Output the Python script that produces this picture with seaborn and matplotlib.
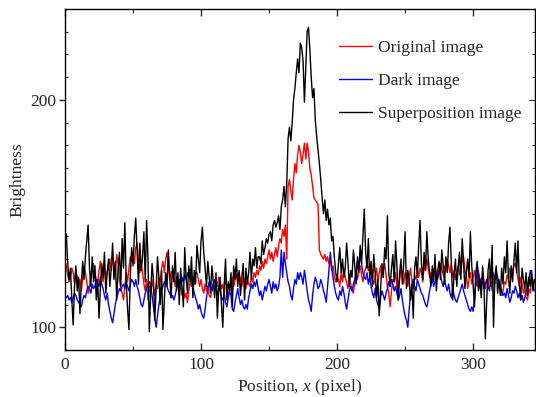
import numpy as np
import pandas as pd
import seaborn as sns
import matplotlib.pyplot as plt
from matplotlib.ticker import MultipleLocator

# brightness profiles, one value per pixel position
original = [
    129, 127, 123, 120, 122, 126, 124, 119, 125, 122,
    118, 121, 116, 122, 127, 124, 120, 115, 118, 123,
    126, 128, 124, 121, 119, 125, 129, 123, 120, 126,
    122, 124, 127, 130, 125, 131, 127, 124, 132, 128,
    121, 117, 115, 112, 118, 124, 120, 126, 131, 129,
    133, 128, 135, 137, 130, 124, 128, 124, 119, 116,
    121, 112, 118, 115, 121, 117, 114, 119, 117, 122,
    120, 126, 129, 124, 130, 133, 127, 121, 124, 125,
    122, 118, 122, 120, 116, 119, 114, 117, 113, 115,
    111, 116, 120, 118, 122, 119, 124, 124, 121, 118,
    121, 117, 115, 119, 116, 118, 114, 113, 117, 119,
    116, 121, 118, 122, 120, 117, 119, 115, 121, 118,
    114, 116, 119, 122, 118, 121, 123, 120, 124, 121,
    118, 122, 120, 117, 121, 119, 118, 122, 120, 124,
    122, 125, 123, 127, 125, 129, 126, 130, 128, 131,
    134, 130, 133, 129, 132, 135, 131, 136, 139, 137,
    143, 140, 145, 130, 162, 165, 160, 156, 165, 172,
    168, 176, 180, 177, 172, 176, 181, 174, 181, 177,
    170, 167, 162, 157, 156, 155, 154, 134, 132, 131,
    130, 132, 129, 131, 128, 130, 125, 127, 122, 120,
    123, 121, 118, 124, 120, 126, 122, 120, 117, 121,
    119, 116, 115, 120, 124, 121, 125, 127, 123, 120,
    124, 126, 128, 125, 128, 123, 121, 119, 122, 126,
    120, 124, 127, 122, 125, 128, 123, 118, 115, 109,
    116, 121, 120, 124, 118, 115, 121, 126, 122, 119,
    124, 121, 118, 122, 126, 120, 117, 123, 121, 125,
    122, 126, 124, 120, 127, 125, 130, 126, 122, 124,
    120, 123, 127, 124, 121, 125, 128, 126, 123, 127,
    125, 130, 127, 124, 128, 122, 125, 121, 124, 127,
    123, 126, 129, 131, 125, 123, 117, 121, 124, 119,
    122, 125, 120, 118, 123, 121, 119, 124, 120, 117,
    121, 118, 124, 120, 116, 122, 119, 123, 121, 118,
    118, 114, 116, 120, 119, 123, 121, 126, 122, 125,
    127, 128, 125, 121, 118, 122, 119, 115, 117, 113,
    112, 117, 115, 120, 118, 121,
]

dark = [
    114, 113, 114, 112, 113, 111, 113, 115, 114, 112,
    111, 110, 109, 112, 114, 113, 116, 118, 117, 115,
    119, 117, 118, 121, 119, 118, 122, 119, 117, 114,
    112, 115, 110, 107, 104, 102, 106, 110, 113, 115,
    117, 116, 118, 119, 117, 120, 118, 116, 119, 121,
    120, 118, 121, 118, 116, 113, 110, 109, 112, 115,
    117, 119, 120, 118, 114, 109, 104, 100, 105, 110,
    113, 116, 118, 120, 119, 118, 116, 115, 113, 114,
    112, 114, 117, 119, 121, 118, 122, 120, 123, 121,
    124, 122, 125, 121, 118, 115, 113, 111, 108, 110,
    107, 105, 104, 108, 113, 117, 120, 118, 116, 119,
    121, 117, 114, 118, 116, 113, 112, 115, 111, 109,
    113, 116, 114, 108, 107, 111, 114, 117, 113, 110,
    112, 109, 108, 110, 108, 113, 116, 119, 117, 120,
    118, 121, 117, 114, 116, 112, 115, 118, 116, 119,
    121, 118, 115, 120, 117, 119, 116, 118, 122, 134,
    122, 133, 128, 124, 120, 118, 114, 112, 117, 121,
    119, 124, 121, 124, 122, 119, 125, 121, 116, 112,
    110, 107, 114, 119, 122, 120, 117, 118, 121, 119,
    116, 114, 111, 118, 125, 133, 127, 122, 118, 115,
    113, 112, 116, 114, 118, 115, 111, 108, 112, 116,
    118, 116, 119, 121, 125, 129, 127, 133, 128, 124,
    122, 121, 124, 119, 122, 118, 115, 113, 117, 112,
    110, 108, 113, 116, 114, 112, 115, 117, 120, 118,
    121, 119, 116, 118, 115, 112, 114, 117, 112, 108,
    105, 103, 100, 108, 115, 119, 121, 118, 116, 121,
    119, 117, 115, 114, 112, 110, 109, 112, 116, 119,
    121, 118, 120, 123, 122, 125, 123, 120, 118, 121,
    118, 116, 119, 115, 113, 117, 114, 112, 111, 113,
    115, 117, 119, 116, 114, 112, 110, 108, 107, 109,
    107, 112, 120, 127, 124, 121, 119, 120, 117, 119,
    121, 118, 116, 122, 125, 123, 121, 125, 122, 120,
    118, 116, 114, 115, 113, 117, 114, 111, 113, 116,
    115, 118, 116, 113, 115, 112, 114, 111, 113, 116,
    118, 121, 125, 123, 119, 116,
]

superposition = [
    140, 141, 128, 121, 126, 112, 101, 118, 127, 116,
    122, 106, 119, 129, 121, 131, 138, 145, 126, 118,
    131, 120, 127, 112, 121, 104, 117, 128, 122, 133,
    115, 124, 130, 118, 126, 137, 121, 129, 112, 125,
    133, 118, 139, 126, 146, 120, 108, 99, 123, 135,
    127, 140, 148, 133, 119, 137, 125, 131, 142, 120,
    147, 130, 98, 115, 128, 121, 103, 117, 131, 122,
    110, 125, 99, 112, 124, 118, 134, 122, 113, 127,
    120, 133, 116, 124, 110, 126, 118, 109, 135, 122,
    115, 127, 120, 131, 113, 125, 119, 136, 130, 124,
    138, 144, 133, 126, 118, 129, 122, 115, 127, 120,
    113, 124, 104, 117, 122, 110, 100, 118, 130, 112,
    120, 116, 124, 109, 127, 121, 130, 118, 125, 114,
    122, 128, 112, 126, 119, 124, 133, 121, 130, 127,
    135, 126, 131, 131, 128, 138, 132, 135, 139, 137,
    141, 142, 138, 145, 147, 144, 146, 149, 143, 153,
    156, 162, 153, 163, 183, 188, 182, 190, 200, 205,
    212, 218, 212, 225, 223, 217, 199, 215, 230, 232,
    222, 210, 201, 205, 191, 184, 178, 172, 165, 157,
    150, 156, 147, 152, 145, 148, 138, 140, 131, 124,
    120, 128, 135, 124, 130, 122, 126, 137, 129, 118,
    125, 122, 134, 127, 119, 131, 124, 136, 128, 140,
    152, 133, 126, 139, 121, 129, 118, 132, 124, 113,
    121, 105, 117, 128, 122, 135, 130, 149, 124, 118,
    126, 132, 120, 138, 127, 112, 124, 130, 119, 128,
    142, 117, 125, 121, 112, 119, 104, 126, 131, 122,
    136, 147, 128, 121, 133, 125, 142, 130, 124, 118,
    127, 120, 132, 116, 125, 129, 121, 134, 127, 119,
    131, 124, 137, 144, 128, 112, 123, 130, 118, 126,
    133, 121, 139, 128, 117, 124, 130, 122, 142, 127,
    119, 109, 124, 129, 116, 121, 113, 127, 118, 95,
    112, 125, 130, 118, 136, 100, 122, 127, 115, 121,
    114, 126, 119, 131, 124, 138, 122, 115, 127, 120,
    129, 137, 124, 138, 119, 112, 126, 121, 117, 124,
    114, 122, 118, 125, 116, 121,
]

position = np.arange(len(superposition))

series_names = ["Original image", "Dark image", "Superposition image"]
series_colors = ["#ff0000", "#0000ff", "#000000"]

sns.set_style("ticks")
plt.rcParams['font.family'] = ['Liberation Serif', 'DejaVu Serif']
plt.rcParams['mathtext.fontset'] = 'custom'
plt.rcParams['mathtext.it'] = 'Liberation Serif:italic'
plt.rcParams['mathtext.rm'] = 'Liberation Serif'

fs = 12.5

fig = plt.figure(figsize=(5.36, 3.97), dpi=100)
ax = fig.add_axes([65 / 536, 1 - 350 / 397, 470 / 536, 341 / 397])

for name, vals, col in zip(series_names, [original, dark, superposition], series_colors):
    sns.lineplot(x=position, y=vals, ax=ax, color=col, lw=1.0, label=name)

ax.set_xlim(0, 345.5)
ax.set_ylim(90, 240)
ax.xaxis.set_major_locator(MultipleLocator(100))
ax.xaxis.set_minor_locator(MultipleLocator(50))
ax.yaxis.set_major_locator(MultipleLocator(100))
ax.yaxis.set_minor_locator(MultipleLocator(10))

for s in ax.spines.values():
    s.set_linewidth(1.0)
    s.set_color('black')

ax.tick_params(axis='x', which='both', direction='in', top=True, labelsize=fs, pad=5)
ax.tick_params(axis='x', which='major', length=5, width=1.0)
ax.tick_params(axis='x', which='minor', length=3, width=0.8)
ax.tick_params(axis='y', which='major', direction='out', length=4, width=1.0, labelsize=fs, pad=2)
ax.tick_params(axis='y', which='minor', direction='in', length=2.5, width=0.8)

# right-hand ticks point inward
right = ax.secondary_yaxis('right')
right.yaxis.set_major_locator(MultipleLocator(100))
right.yaxis.set_minor_locator(MultipleLocator(10))
right.tick_params(which='both', direction='in', labelright=False)
right.tick_params(which='major', length=4)
right.tick_params(which='minor', length=2.5)

ax.set_xlabel(r"Position, $x$ (pixel)", fontsize=fs, labelpad=3)
ax.set_ylabel("Brightness", fontsize=fs, labelpad=3.5)

ax.legend(loc='upper left', bbox_to_anchor=(0.549, 0.955), frameon=False,
          fontsize=fs, handlelength=1.9, handletextpad=0.35, labelspacing=0.97)

fig.savefig("out.png", dpi=100)
